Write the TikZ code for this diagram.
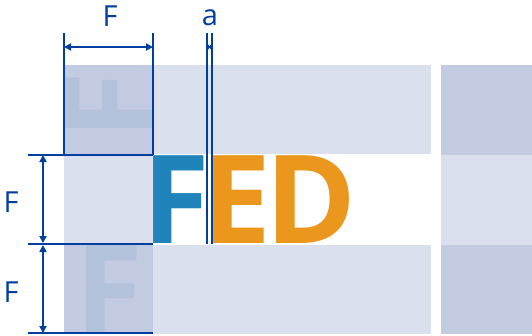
\documentclass[tikz,border=0pt]{standalone}
\usepackage{fontspec}
\setmainfont{Open Sans}
\usetikzlibrary{arrows.meta}
\definecolor{dimblue}{RGB}{0,62,160}
\definecolor{fblue}{RGB}{32,131,186}
\definecolor{forange}{RGB}{235,150,29}
\definecolor{celllight}{RGB}{219,224,238}
\definecolor{celldark}{RGB}{194,203,226}
\definecolor{ghost}{RGB}{179,193,219}
\begin{document}
\begin{tikzpicture}[x=1pt,y=-1pt,
  dimline/.style={draw=dimblue,line width=2pt},
  dimarrow/.style={dimline,{Triangle[length=7pt,width=7pt]}-{Triangle[length=7pt,width=7pt]}},
  smallarrow/.style={dimline,line width=1.5pt,{Triangle[length=2pt,width=5pt]}-{Triangle[length=2pt,width=5pt]}},
  biglet/.style={inner sep=0pt,outer sep=0pt,font=\fontsize{123}{123}\selectfont\bfseries,anchor=base west},
  lab/.style={text=dimblue,inner sep=0pt,font=\fontsize{29}{29}\selectfont,anchor=base}]
\useasboundingbox (0,0) rectangle (532,335);
% cells
\fill[celldark]  (64,65) rectangle (153,154);
\fill[celllight] (153,65) rectangle (431,154);
\fill[celldark]  (441,65) rectangle (532,155);
\fill[celllight] (64,155) rectangle (153,244);
\fill[celllight] (441,155) rectangle (532,244.5);
\fill[celldark]  (64,245) rectangle (153,334);
\fill[celllight] (153,245) rectangle (431,334);
\fill[celldark]  (441,244.5) rectangle (532,334);
% ghost letters
\begin{scope}
  \clip (64,65) rectangle (153,154);
  \node[biglet,text=ghost,rotate=90] (ghosttop) at (152,139) {F};
\end{scope}
\begin{scope}
  \clip (64,245) rectangle (153,334);
  \node[biglet,text=ghost] (ghostbottom) at (75,333) {F};
\end{scope}
% big letters
\node[biglet,text=fblue] (letF) at (142,243) {F};
\node[biglet,text=forange] (letE) at (202,243) {E};
\node[biglet,text=forange] (letD) at (265,243) {D};
% coordinates
\coordinate (ftopL) at (64,33);
\coordinate (fbotL) at (64,155);
\coordinate (ftopR) at (153,33);
\coordinate (fbotR) at (153,155);
\coordinate (atopL) at (207,33);
\coordinate (abotL) at (207,244);
\coordinate (atopR) at (212,33);
\coordinate (abotR) at (212,244);
\coordinate (h1L) at (28,155);
\coordinate (h2L) at (28,244);
\coordinate (h2R) at (153,244);
\coordinate (h3L) at (28,333);
\coordinate (h3R) at (153,333);
\coordinate (fdimL) at (64,47);
\coordinate (fdimR) at (153,47);
\coordinate (adimL) at (207,47);
\coordinate (adimR) at (212,47);
\coordinate (v1T) at (43,155);
\coordinate (v1B) at (43,243);
\coordinate (v2T) at (43,245);
\coordinate (v2B) at (43,333);
% extension lines
\draw[dimline] (ftopL) -- (fbotL);
\draw[dimline] (ftopR) -- (fbotR);
\draw[dimline] (atopL) -- (abotL);
\draw[dimline] (atopR) -- (abotR);
\draw[dimline] (h1L) -- (fbotR);
\draw[dimline] (h2L) -- (h2R);
\draw[dimline] (h3L) -- (h3R);
% dimension arrows
\draw[dimarrow] (fdimL) -- (fdimR);
\draw[smallarrow] (adimL) -- (adimR);
\draw[dimarrow] (v1T) -- (v1B);
\draw[dimarrow] (v2T) -- (v2B);
% labels
\node[lab] (labFtop) at (110,26) {F};
\node[lab] (laba) at (210,25) {a};
\node[lab] (labF1) at (11,212) {F};
\node[lab] (labF2) at (11,302) {F};
\end{tikzpicture}
\end{document}
